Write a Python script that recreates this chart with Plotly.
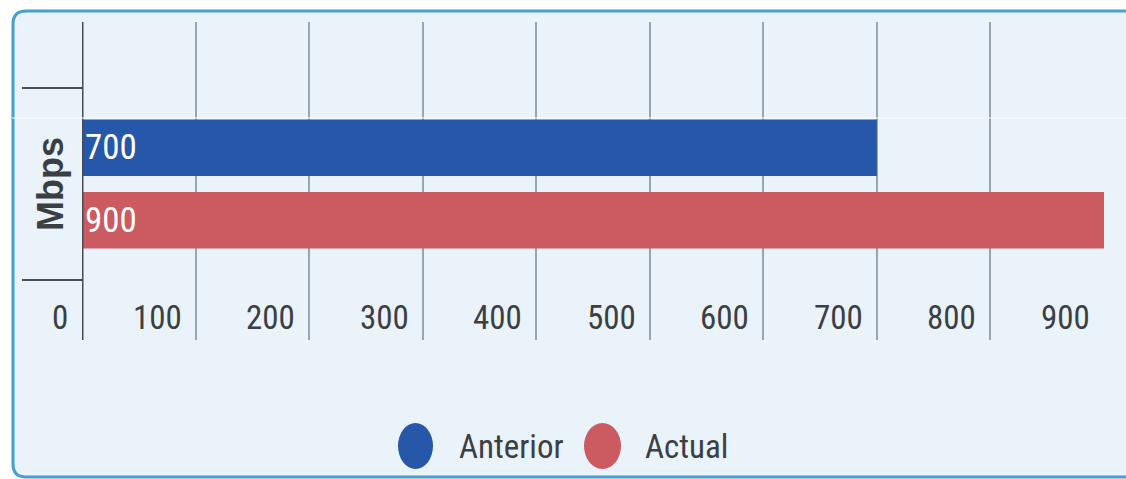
import plotly.graph_objects as go

categories = ["Mbps"]
series_names = ["Anterior", "Actual"]
series_values = [700, 900]
series_colors = ["#2757A8", "#CB5A61"]
tick_values = [0, 100, 200, 300, 400, 500, 600, 700, 800, 900]
tick_labels = ["0", "100", "200", "300", "400", "500", "600", "700", "800", "900"]

W, H = 1126, 479
L, R, T, B = 82, 22, 22, 139
PW, PH = W - L - R, H - T - B

def px(x):
    return (x - L) / PW

def py(y):
    return (H - B - y) / PH

NARROW = "Liberation Sans Narrow, Roboto Condensed, Arial Narrow, Roboto, sans-serif"
TXT = "#3b3f44"

fig = go.Figure()
for name, val, col in zip(series_names, series_values, series_colors):
    fig.add_trace(go.Bar(
        y=categories, x=[val], name=name, orientation="h",
        marker=dict(color=col, line=dict(width=0)),
        text=[str(val)], textposition="inside", insidetextanchor="start",
        textfont=dict(family=NARROW, size=35, color="white"),
        showlegend=False, cliponaxis=False,
    ))

shapes = []
# rounded background panel
x0, x1, y0, y1, r = 13, 1140, 11, 477, 13
path = (f"M {px(x0 + r)},{py(y0)} L {px(x1 - r)},{py(y0)} "
        f"Q {px(x1)},{py(y0)} {px(x1)},{py(y0 + r)} L {px(x1)},{py(y1 - r)} "
        f"Q {px(x1)},{py(y1)} {px(x1 - r)},{py(y1)} L {px(x0 + r)},{py(y1)} "
        f"Q {px(x0)},{py(y1)} {px(x0)},{py(y1 - r)} L {px(x0)},{py(y0 + r)} "
        f"Q {px(x0)},{py(y0)} {px(x0 + r)},{py(y0)} Z")
shapes.append(dict(type="path", xref="paper", yref="paper", path=path,
                   fillcolor="#EAF2FA", line=dict(color="#479ECF", width=3), layer="below"))
# category band ticks
for yv in (-0.5, 0.5):
    shapes.append(dict(type="line", xref="paper", yref="y", x0=px(22), x1=0, y0=yv, y1=yv,
                       line=dict(color="#454c53", width=2), layer="above"))
# left axis line
shapes.append(dict(type="line", xref="x", yref="paper", x0=0, x1=0, y0=0, y1=1,
                   line=dict(color="#454c53", width=3), layer="above"))
# thin white artifact line
shapes.append(dict(type="line", xref="paper", yref="paper", x0=px(12), x1=px(1126),
                   y0=py(118), y1=py(118), line=dict(color="white", width=1), layer="above"))

annotations = []
for v, lab in zip(tick_values, tick_labels):
    annotations.append(dict(x=v, y=py(317), xref="x", yref="paper", text=lab,
                            showarrow=False, xanchor="right", yanchor="middle", xshift=-12,
                            font=dict(family=NARROW, size=33, color=TXT)))
annotations.append(dict(x=px(50), y=categories[0], xref="paper", yref="y", text=categories[0],
                        textangle=-90, showarrow=False, xanchor="center", yanchor="middle",
                        font=dict(family="Liberation Sans, Arial, sans-serif", size=36,
                                  color=TXT, weight="bold")))
# legend (manual, large circles)
leg_circle_x = [(398, 433), (584, 621)]
leg_text_x = [457, 643]
for (cx0, cx1), tx, name, col in zip(leg_circle_x, leg_text_x, series_names, series_colors):
    shapes.append(dict(type="circle", xref="paper", yref="paper",
                       x0=px(cx0), x1=px(cx1), y0=py(469), y1=py(423),
                       fillcolor=col, line=dict(width=0)))
    annotations.append(dict(x=px(tx), y=py(446), xref="paper", yref="paper", text=name,
                            showarrow=False, xanchor="left", yanchor="middle",
                            font=dict(family=NARROW, size=33, color=TXT)))

fig.update_layout(
    width=W, height=H,
    margin=dict(l=L, r=R, t=T, b=B, pad=0),
    paper_bgcolor="white", plot_bgcolor="#EAF2FA",
    barmode="group", bargap=0.245, bargroupgap=0.22,
    showlegend=False,
    shapes=shapes, annotations=annotations,
    xaxis=dict(range=[0, 900], tickvals=tick_values, showticklabels=False,
               showgrid=True, gridcolor="#9ba5ad", gridwidth=2,
               zeroline=False, showline=False, ticks="", fixedrange=True),
    yaxis=dict(type="category", categoryarray=categories, range=[0.8125, -0.844],
               showticklabels=False, showgrid=False, zeroline=False, showline=False,
               ticks="", fixedrange=True),
)

fig.write_html("out.html", config={"displayModeBar": False},
               post_script="document.body.style.margin='0';")
